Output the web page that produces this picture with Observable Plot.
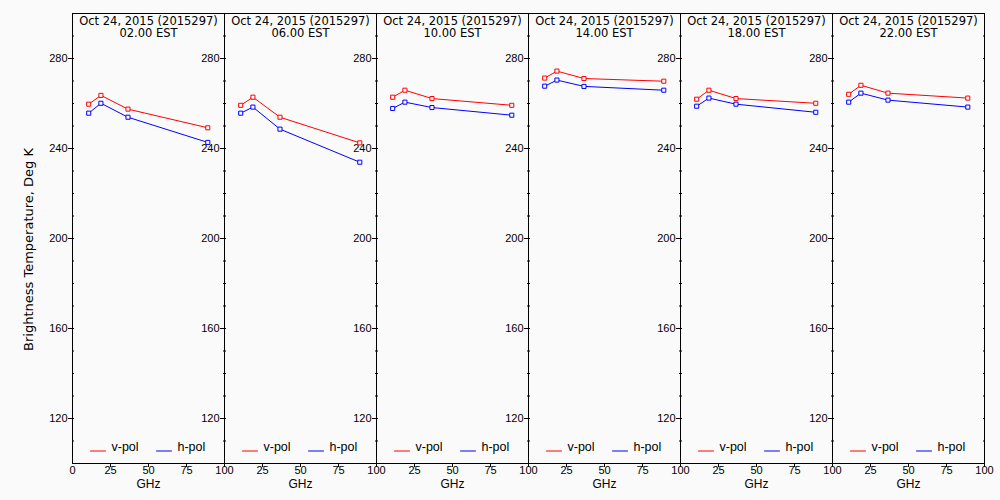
<!DOCTYPE html>
<html>
<head>
<meta charset="utf-8">
<script src="https://cdn.jsdelivr.net/npm/d3@7"></script>
<script src="https://cdn.jsdelivr.net/npm/@observablehq/plot@0.6"></script>
<style>
  html, body { margin: 0; padding: 0; background: #fafafa; }
</style>
</head>
<body>
<div id="chart"></div>
<script>
// ---- data ----
const dateLabel = "Oct 24, 2015 (2015297)";
const times = ["02.00", "06.00", "10.00", "14.00", "18.00", "22.00"];
const freqs = [10.65, 18.7, 36.5, 89.0];
const pols = ["v-pol", "h-pol"];
const polColors = ["#ff0000", "#0000ff"];
const vpol = [
  [259.7, 263.6, 257.5, 249.2],
  [259.2, 262.8, 253.9, 242.5],
  [262.8, 265.9, 262.2, 259.2],
  [271.3, 274.4, 271.1, 269.9],
  [261.9, 265.9, 262.2, 260.1],
  [264.1, 268.1, 264.6, 262.4]
];
const hpol = [
  [255.7, 260.1, 253.9, 242.7],
  [255.7, 258.4, 248.6, 233.9],
  [257.8, 260.6, 258.2, 254.8],
  [267.7, 270.4, 267.6, 265.9],
  [258.8, 262.4, 259.7, 256.1],
  [260.6, 264.6, 261.5, 258.4]
];
const xTicks = [25, 50, 75, 100];
const xFirstTick = [0];
const yMajorTicks = [120, 160, 200, 240, 280];
const yMinorTicks = d3.range(100, 301, 10);
const xLabel = "GHz";
const yLabel = "Brightness Temperature, Deg K";

// ---- table ----
const rows = [];
times.forEach((t, i) => {
  freqs.forEach((f, j) => {
    rows.push({time: t, pol: "v-pol", f, tb: vpol[i][j]});
    rows.push({time: t, pol: "h-pol", f, tb: hpol[i][j]});
  });
});

const segment = {draw(context, l) { context.moveTo(0, 0); context.lineTo(0, -l); }};

const chart = Plot.plot({
  width: 1000,
  height: 500,
  marginLeft: 70,
  marginRight: 15,
  marginTop: 13,
  marginBottom: 37,
  style: {background: "#fafafa", fontFamily: "Liberation Sans", fontSize: "11px", color: "black", overflow: "visible"},
  fx: {domain: times, padding: 0, axis: null},
  x: {domain: [0, 100]},
  y: {domain: [100, 300]},
  color: {domain: pols, range: polColors},
  marks: [
    Plot.frame({stroke: "black"}),
    // y ticks: inward on both sides, every 10
    Plot.axisY(yMinorTicks, {anchor: "left", tickSize: 2, insetLeft: 2, fill: "none", label: null, facetAnchor: null}),
    Plot.axisY(yMinorTicks, {anchor: "right", tickSize: 2, insetRight: 2, fill: "none", label: null, facetAnchor: null}),
    // y major ticks with labels, outward on the left of every panel
    Plot.axisY(yMajorTicks, {anchor: "left", tickSize: 4, tickPadding: 1, label: null, facetAnchor: null, fontSize: 11}),
    // x axis
    Plot.axisX(xTicks, {anchor: "bottom", tickSize: 4, tickPadding: -1, label: null, fontSize: 11}),
    Plot.text(xFirstTick, {x: d => d, fx: () => times[0], frameAnchor: "bottom", lineAnchor: "top", dy: 3, text: d => String(d), fontSize: 11}),
    Plot.text(times, {fx: d => d, frameAnchor: "bottom", dy: 24.5, text: () => xLabel, fontSize: 12}),
    Plot.text([yLabel], {fx: () => times[0], frameAnchor: "left", textAnchor: "middle", rotate: -90, dx: -44, dy: 11, text: d => d, fontFamily: "DejaVu Sans", fontSize: 13}),
    // titles
    Plot.text(times, {fx: d => d, frameAnchor: "top", lineAnchor: "top", dy: 3, lineHeight: 1.05, text: d => `${dateLabel}\n${d} EST`, fontFamily: "DejaVu Sans", fontSize: 11.5}),
    // data
    Plot.line(rows, {fx: "time", x: "f", y: "tb", z: "pol", stroke: "pol", strokeWidth: 1}),
    Plot.dot(rows, {fx: "time", x: "f", y: "tb", stroke: "pol", symbol: "square", r: 2.3, fill: "#fafafa", strokeWidth: 1}),
    // legends
    Plot.vector(times, {fx: d => d, frameAnchor: "bottom-left", dx: 18, dy: -12.5, rotate: 90, length: 15, anchor: "start", shape: segment, stroke: polColors[0], strokeWidth: 1}),
    Plot.text(times, {fx: d => d, frameAnchor: "bottom-left", dx: 39, dy: -12.5, textAnchor: "start", text: () => pols[0], fontSize: 12.5}),
    Plot.vector(times, {fx: d => d, frameAnchor: "bottom-left", dx: 84, dy: -12.5, rotate: 90, length: 15, anchor: "start", shape: segment, stroke: polColors[1], strokeWidth: 1}),
    Plot.text(times, {fx: d => d, frameAnchor: "bottom-left", dx: 105, dy: -12.5, textAnchor: "start", text: () => pols[1], fontSize: 12.5})
  ]
});
document.getElementById("chart").appendChild(chart);
</script>
</body>
</html>
